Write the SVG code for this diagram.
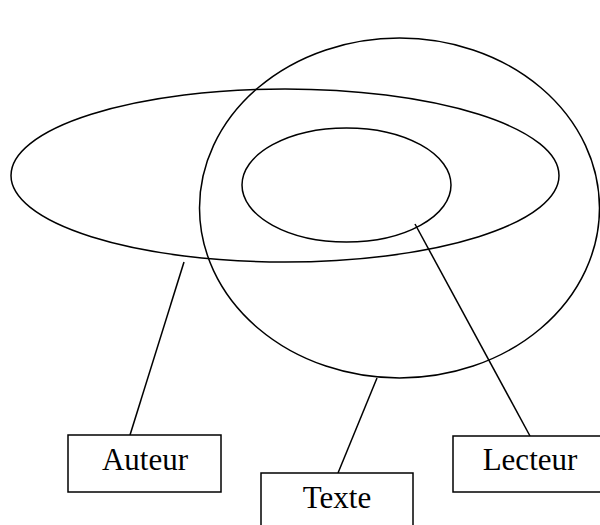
<svg xmlns="http://www.w3.org/2000/svg" width="600" height="525" viewBox="0 0 600 525">
<style>
.s{fill:none;stroke:#000;stroke-width:1.5}
.b{fill:#fff;stroke:#000;stroke-width:1.5}
.t{font-family:"Liberation Serif","Times New Roman",serif;font-size:31px;fill:#000;text-anchor:middle}
</style>
<rect width="600" height="525" fill="#fff"/>
<g id="shapes">
<ellipse id="big-ellipse" class="s" cx="285" cy="175.5" rx="274" ry="86.5"/>
<ellipse id="circle" class="s" cx="399.5" cy="208" rx="200" ry="170"/>
<ellipse id="inner-ellipse" class="s" cx="346.5" cy="185" rx="104.5" ry="57"/>
</g>
<g id="connectors">
<line class="s" x1="184" y1="262" x2="130" y2="435"/>
<line class="s" x1="377" y1="378" x2="338" y2="473"/>
<line class="s" x1="415" y1="224" x2="530" y2="436"/>
</g>
<g id="auteur">
<rect class="b" x="68" y="435" width="153" height="57"/>
<text class="t" x="145" y="470">Auteur</text>
</g>
<g id="texte">
<rect class="b" x="261" y="473" width="152" height="60"/>
<text class="t" x="337" y="508">Texte</text>
</g>
<g id="lecteur">
<rect class="b" x="453" y="436" width="154" height="56"/>
<text class="t" x="530" y="470">Lecteur</text>
</g>
</svg>
